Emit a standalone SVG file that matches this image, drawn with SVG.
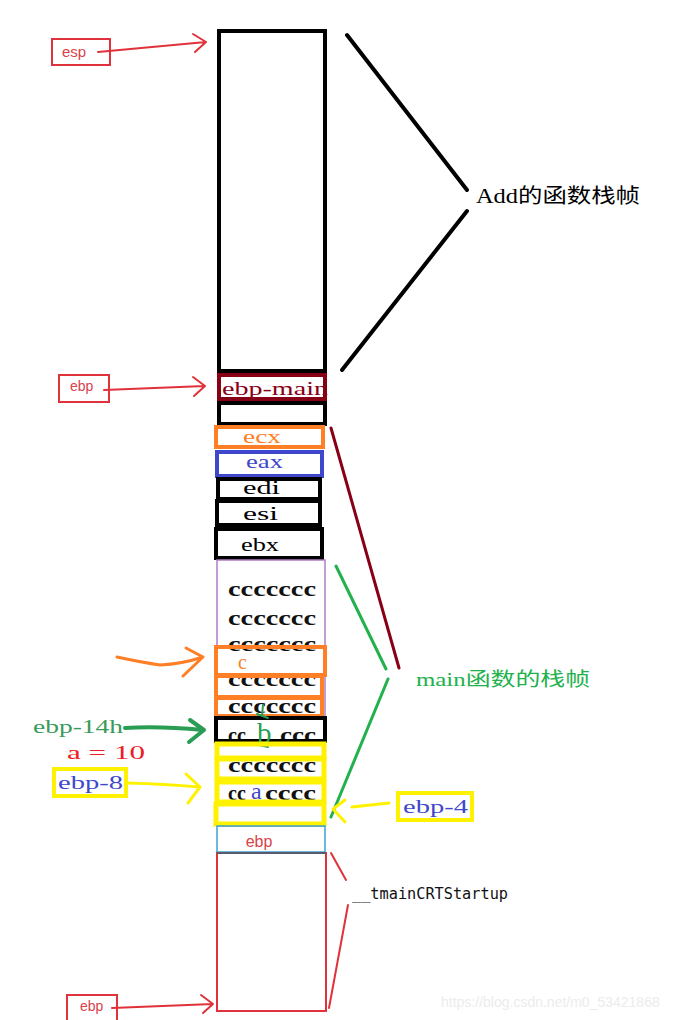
<svg xmlns="http://www.w3.org/2000/svg" width="696" height="1020" viewBox="0 0 696 1020">
<defs>
<style>
.ser{font-family:"Liberation Serif","Noto Sans CJK SC",serif;font-size:19px;}
.sans{font-family:"Liberation Sans","Noto Sans",sans-serif;}
.cc{font-family:"Liberation Serif",serif;font-size:20px;font-weight:bold;fill:#111;}
.blk{fill:none;stroke:#000;stroke-width:4;}
.org{fill:none;stroke:#ff7f27;stroke-width:4;}
.yel{fill:none;stroke:#fff200;stroke-width:5;}
.red{fill:none;stroke:#e0323a;stroke-width:2;}
.ln{fill:none;stroke-linecap:round;stroke-linejoin:round;}
</style>
</defs>
<rect width="696" height="1020" fill="#fff"/>

<!-- Add frame -->
<g id="add-frame"><rect class="blk" x="219" y="31" width="106" height="340"/></g>

<g id="ebp-main">
<text class="ser" x="222" y="395" fill="#880015" textLength="106" lengthAdjust="spacingAndGlyphs">ebp-main</text>
<rect x="219" y="375" width="106" height="24" fill="none" stroke="#880015" stroke-width="4"/>
</g>
<g id="blank1"><rect class="blk" x="219" y="403" width="106" height="21"/></g>
<g id="ecx"><rect class="org" x="216" y="427" width="107" height="20"/><text class="ser" x="243" y="443" fill="#ff7f27" textLength="38" lengthAdjust="spacingAndGlyphs">ecx</text></g>
<g id="eax"><rect x="217" y="452" width="105" height="24" fill="none" stroke="#3f48cc" stroke-width="4"/><text class="ser" x="246" y="468" fill="#3f48cc" textLength="37" lengthAdjust="spacingAndGlyphs">eax</text></g>
<g id="edi"><rect class="blk" x="218" y="479" width="102" height="20"/><text class="ser" x="243" y="494" fill="#000" textLength="37" lengthAdjust="spacingAndGlyphs">edi</text></g>
<g id="esi"><rect class="blk" x="217" y="501" width="103" height="24"/><text class="ser" x="243" y="520" fill="#000" textLength="35" lengthAdjust="spacingAndGlyphs">esi</text></g>
<g id="ebx"><rect class="blk" x="216" y="529" width="106" height="29"/><text class="ser" x="241" y="551" fill="#000" textLength="38" lengthAdjust="spacingAndGlyphs">ebx</text></g>

<!-- locals area -->
<g id="locals">
<rect x="217" y="560" width="108" height="266" fill="none" stroke="#b07cc6" stroke-width="1.5"/>
<text class="cc" x="228" y="596" textLength="88" lengthAdjust="spacingAndGlyphs">ccccccc</text>
<text class="cc" x="228" y="625" textLength="88" lengthAdjust="spacingAndGlyphs">ccccccc</text>
<text class="cc" x="228" y="651" textLength="88" lengthAdjust="spacingAndGlyphs">ccccccc</text>
<text class="cc" x="228" y="686" textLength="88" lengthAdjust="spacingAndGlyphs">ccccccc</text>
<text class="cc" x="228" y="713" textLength="88" lengthAdjust="spacingAndGlyphs">ccccccc</text>
<text class="cc" x="228" y="742">cc</text>
<text class="cc" x="280" y="742" textLength="36" lengthAdjust="spacingAndGlyphs">ccc</text>
<text class="cc" x="228" y="772" textLength="88" lengthAdjust="spacingAndGlyphs">ccccccc</text>
<text class="cc" x="228" y="800">cc</text>
<text class="cc" x="265" y="800" textLength="51" lengthAdjust="spacingAndGlyphs">cccc</text>
</g>
<g id="var-c">
<rect class="org" x="216" y="647" width="109" height="28"/>
<text class="ser" x="238" y="669" fill="#ff7f27" style="font-size:20px">c</text>
<rect class="org" x="216" y="676" width="106" height="21"/>
<rect class="org" x="216" y="698" width="106" height="18"/>
</g>
<g id="var-b">
<rect class="blk" x="216" y="718" width="109" height="23"/>
<text class="ser" x="257" y="743" fill="#2a9d55" style="font-size:29px">b</text>
<path class="ln" d="M263,705 L262,716 M257,714 L268,718 M259,745 L268,747" stroke="#2a9d55" stroke-width="2"/>
</g>
<g id="var-a">
<rect class="yel" x="217" y="744" width="107" height="14"/>
<rect class="yel" x="217" y="759" width="107" height="20"/>
<rect class="yel" x="217" y="782" width="107" height="20"/>
<text class="ser" x="251" y="799" fill="#3f48cc" style="font-size:24px">a</text>
<rect class="yel" x="216" y="804" width="108" height="20"/>
</g>
<g id="ebp-saved">
<rect x="217" y="826" width="108" height="26" fill="none" stroke="#3ba3d8" stroke-width="1.5"/>
<text class="sans" x="259" y="847" font-size="16" fill="#d9424a" text-anchor="middle">ebp</text>
</g>
<g id="tmain-frame">
<rect class="red" x="217" y="853" width="109" height="158"/>
<line x1="217" y1="853" x2="326" y2="853" stroke="#5a5a6a" stroke-width="2"/>
</g>

<!-- left labels -->
<g id="esp-label"><rect class="red" x="52" y="39" width="58" height="26"/><text class="sans" x="62" y="57" font-size="15" fill="#d9424a">esp</text></g>
<g id="ebp-label"><rect class="red" x="59" y="375" width="50" height="27" stroke-width="1.5"/><text class="sans" x="70" y="391" font-size="14" fill="#d9424a">ebp</text></g>
<g id="ebp-label2"><rect class="red" x="67" y="995" width="50" height="30" stroke-width="1.5"/><text class="sans" x="80" y="1011" font-size="14" fill="#d9424a">ebp</text></g>
<g id="ebp-14h-label"><text class="ser" x="33" y="733" fill="#3a9a5a" textLength="90" lengthAdjust="spacingAndGlyphs">ebp-14h</text></g>
<g id="a10-label"><text class="ser" x="67" y="759" fill="#ed1c24" textLength="78" lengthAdjust="spacingAndGlyphs">a = 10</text></g>
<g id="ebp-8-label"><rect x="54" y="769" width="72" height="27" fill="none" stroke="#fff200" stroke-width="4"/><text class="ser" x="58" y="789" fill="#3f48cc" textLength="65" lengthAdjust="spacingAndGlyphs">ebp-8</text></g>
<g id="ebp-4-label"><rect x="398" y="793" width="74" height="27" fill="none" stroke="#fff200" stroke-width="4"/><text class="ser" x="403" y="813" fill="#3f48cc" textLength="65" lengthAdjust="spacingAndGlyphs">ebp-4</text></g>

<!-- right labels -->
<g id="add-label"><text class="ser" x="476" y="203" fill="#000" style="font-size:20px" textLength="164" lengthAdjust="spacingAndGlyphs">Add的函数栈帧</text></g>
<g id="main-label"><text class="ser" x="416" y="686" fill="#22b14c" textLength="174" lengthAdjust="spacingAndGlyphs">main函数的栈帧</text></g>
<g id="tmain-label"><text x="352" y="899" fill="#111" font-size="15" font-family="'DejaVu Sans Mono','Liberation Mono',monospace" textLength="156" lengthAdjust="spacingAndGlyphs">__tmainCRTStartup</text></g>
<g id="watermark"><text class="sans" x="441" y="1007" fill="#ececec" font-size="14">https://blog.csdn.net/m0_53421868</text></g>

<g id="connectors">
<!-- red pointer arrows -->
<path class="ln" d="M98,52 L206,42 M193,34 L206,42 L195,52" stroke="#e0323a" stroke-width="2"/>
<path class="ln" d="M104,390 L205,386 M193,377 L205,386 L194,396" stroke="#e0323a" stroke-width="2"/>
<path class="ln" d="M112,1008 L213,1004 M201,995 L213,1004 L203,1013" stroke="#e0323a" stroke-width="2"/>
<!-- Add bracket -->
<path class="ln" d="M347,35 L467,190 M467,211 L342,370" stroke="#000" stroke-width="4"/>
<!-- main bracket -->
<path class="ln" d="M331,428 L399,668" stroke="#880015" stroke-width="3"/>
<path class="ln" d="M336,566 L386,669 M388,679 L331,817" stroke="#22b14c" stroke-width="3"/>
<!-- tmain bracket -->
<path class="ln" d="M331,853 L346,880 M348,905 L329,1008" stroke="#e0323a" stroke-width="2"/>
<!-- orange arrow -->
<path class="ln" d="M117,657 Q140,662 160,665 Q182,664 203,657 M186,648 L203,657 L183,676" stroke="#ff7f27" stroke-width="3"/>
<!-- green arrow -->
<path class="ln" d="M125,728 Q160,726 203,730 M190,720 L204,730 L189,742" stroke="#2a9d55" stroke-width="4"/>
<!-- yellow arrows -->
<path class="ln" d="M128,783 Q165,784 199,787 M186,774 L200,787 L188,803" stroke="#fff200" stroke-width="3"/>
<path class="ln" d="M389,803 L352,807 M345,800 L333,809 L345,822" stroke="#fff200" stroke-width="3"/>
</g>
</svg>
